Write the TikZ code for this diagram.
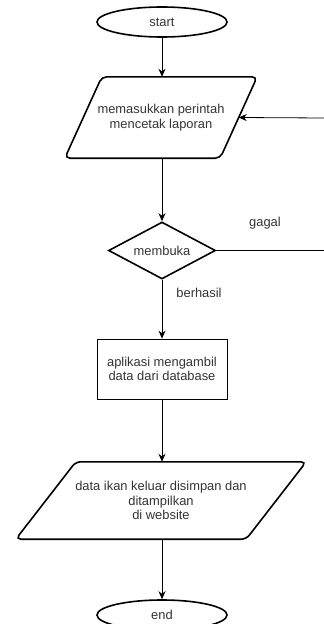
\documentclass[tikz,border=0pt]{standalone}
\usepackage{fontspec}
\setmainfont{Liberation Sans}
\usetikzlibrary{shapes.geometric,arrows.meta,calc}

\tikzset{
    terminal/.style = {
        draw,
        line width=1.6pt,
        ellipse,
        minimum width=130pt,
        minimum height=30pt,
        inner sep=0pt
    },
    iobox/.style = {
        minimum height=#1,
        inner sep=0pt,
        align=center
    },
    ioline/.style = {
        line width=1.6pt,
        rounded corners=5pt
    },
    decision/.style = {
        draw,
        line width=1.6pt,
        diamond,
        aspect=1.88,
        minimum width=107pt,
        minimum height=57pt,
        inner sep=0pt
    },
    process/.style = {
        draw,
        line width=0.8pt,
        minimum width=130pt,
        minimum height=60pt,
        inner sep=0pt,
        align=center
    },
    flow/.style = {
        line width=0.8pt,
        -{Stealth[length=8pt,width=7pt]}
    },
    note/.style = {
        inner sep=0pt
    }
}

\begin{document}
\begin{tikzpicture}[x=1pt, y=-1pt,
    every node/.style={font=\fontsize{12.9pt}{14.5pt}\selectfont, text=black!80}]
    \useasboundingbox (0,0) rectangle (324,624);

    % Draw all shapes
    \node[terminal] (start) at (162,22) {start};
    \node[iobox=81pt, minimum width=192pt] (input) at (161,117.5)
        {memasukkan perintah\\mencetak laporan};
    \draw[ioline] ([xshift=37pt]input.north west) -- (input.north east)
        -- ([xshift=-37pt]input.south east) -- (input.south west) -- cycle;
    \node[decision] (decide) at (162,250.5) {membuka};
    \node[process] (fetch) at (162,369) {aplikasi mengambil\\data dari database};
    \node[iobox=77pt, minimum width=290pt] (output) at (161,500.5)
        {data ikan keluar disimpan dan\\ditampilkan\\di website};
    \draw[ioline] ([xshift=60pt]output.north west) -- (output.north east)
        -- ([xshift=-60pt]output.south east) -- (output.south west) -- cycle;
    \node[terminal] (stop) at (162,615) {end};

    % Draw arrows
    \draw[flow] (start) -- (start |- input.north);
    \draw[flow] (start |- input.south) -- (decide);
    \draw[flow] (decide) -- (fetch);
    \draw[flow] (fetch) -- (fetch |- output.north);
    \draw[flow] (fetch |- output.south) -- (stop);

    % Loop back on failure
    \coordinate (failout) at (324,250.5);
    \coordinate (failin) at (324,118);
    \coordinate (inputside) at ($(input.north east)!0.5!([xshift=-37pt]input.south east)$);
    \draw[line width=0.8pt] (decide.east) -- (failout);
    \draw[flow] (failin) -- (inputside);

    % Draw labels
    \node[note] (gagal) at (265,223) {gagal};
    \node[note] (berhasil) at (199,293) {berhasil};
\end{tikzpicture}
\end{document}
